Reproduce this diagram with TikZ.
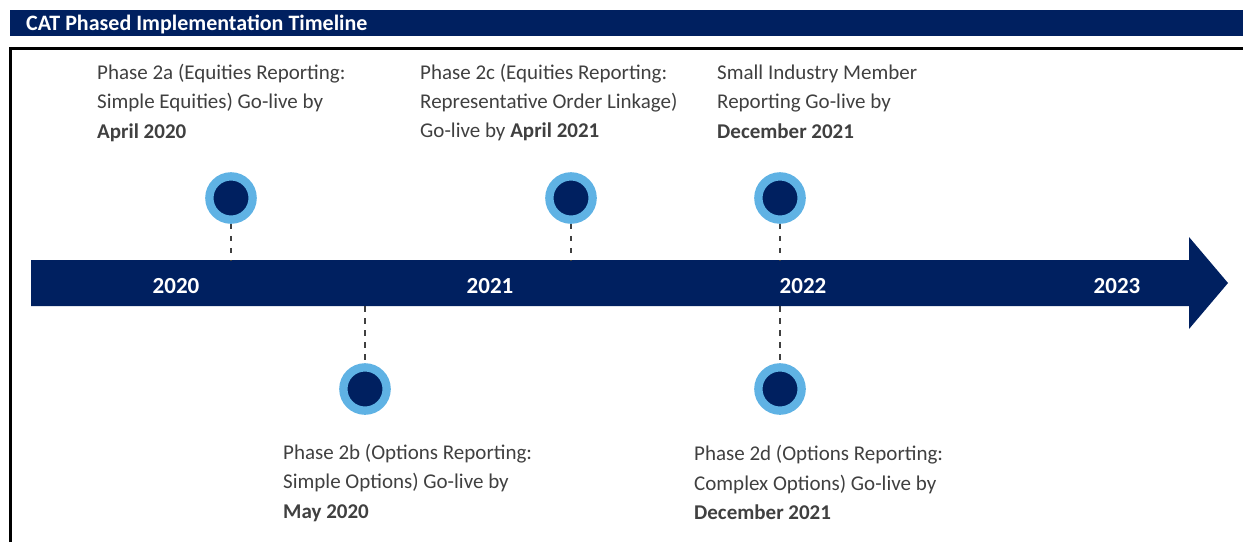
\documentclass[tikz,border=0pt]{standalone}
\usepackage{fontspec}
\setmainfont{Carlito}
\definecolor{catnavy}{HTML}{002060}
\definecolor{catblue}{RGB}{95,178,228}
\definecolor{cattext}{RGB}{64,64,64}
\tikzstyle{milestone} = [circle, fill=catnavy, draw=catblue, line width=8.3pt,
    minimum size=43.3pt, inner sep=0pt]
\tikzstyle{leader} = [cattext, line width=2pt, dash pattern=on 5.5pt off 6.5pt]
\tikzstyle{phasetext} = [text=cattext, align=left, inner sep=0pt, anchor=base west,
    font=\fontsize{21}{29.3}\selectfont]
\tikzstyle{year} = [text=white, inner sep=0pt, anchor=base,
    font=\bfseries\fontsize{23}{28}\selectfont]
\begin{document}
\begin{tikzpicture}[x=1pt,y=-1pt]
                \useasboundingbox (0,0) rectangle (1243,542);
                % title bar and frame
                \fill[catnavy] (10,10) rectangle (1243,36);
                \node[anchor=base west, inner sep=0pt, text=white,
                    font=\bfseries\fontsize{22}{26}\selectfont] (title) at (26,30.8)
                    {CAT Phased Implementation Timeline};
                \draw[line width=2.7pt] (10.7,542) -- (10.7,48.7) -- (1243,48.7);
                % timeline arrow
                \fill[catnavy] (31,260) -- (1189,260) -- (1189,237) -- (1228,283)
                    -- (1189,329) -- (1189,306) -- (31,306) -- cycle;
                \coordinate (axtop) at (0,260);
                \coordinate (axbot) at (0,306);
                \node[year] (y2020) at (176,293.3) {2020};
                \node[year] (y2021) at (490,293.3) {2021};
                \node[year] (y2022) at (803,293.3) {2022};
                \node[year] (y2023) at (1117,293.3) {2023};
                % milestones
                \node[milestone] (m2a) at (231,198) {};
                \node[milestone] (m2c) at (571,198) {};
                \node[milestone] (msim) at (780,198) {};
                \node[milestone] (m2b) at (365,389) {};
                \node[milestone] (m2d) at (780,389) {};
                \draw[leader] (m2a.south) -- (m2a.south |- axtop);
                \draw[leader] (m2c.south) -- (m2c.south |- axtop);
                \draw[leader] (msim.south) -- (msim.south |- axtop);
                \draw[leader] (m2b.north |- axbot) -- (m2b.north);
                \draw[leader] (m2d.north |- axbot) -- (m2d.north);
                % labels (anchored at the baseline of the last line)
                \node[phasetext] (t2a) at (97,138.2)
                    {Phase 2a (Equities Reporting:\\Simple Equities) Go-live by\\\textbf{April 2020}};
                \node[phasetext] (t2c) at (420,137.6)
                    {Phase 2c (Equities Reporting:\\Representative Order Linkage)\\Go-live by \textbf{April 2021}};
                \node[phasetext] (tsim) at (717,138.2)
                    {Small Industry Member\\Reporting Go-live by\\\textbf{December 2021}};
                \node[phasetext] (t2b) at (283,518.2)
                    {Phase 2b (Options Reporting:\\Simple Options) Go-live by\\\textbf{May 2020}};
                \node[phasetext] (t2d) at (694,519.5)
                    {Phase 2d (Options Reporting:\\Complex Options) Go-live by\\\textbf{December 2021}};
            \end{tikzpicture}
\end{document}
